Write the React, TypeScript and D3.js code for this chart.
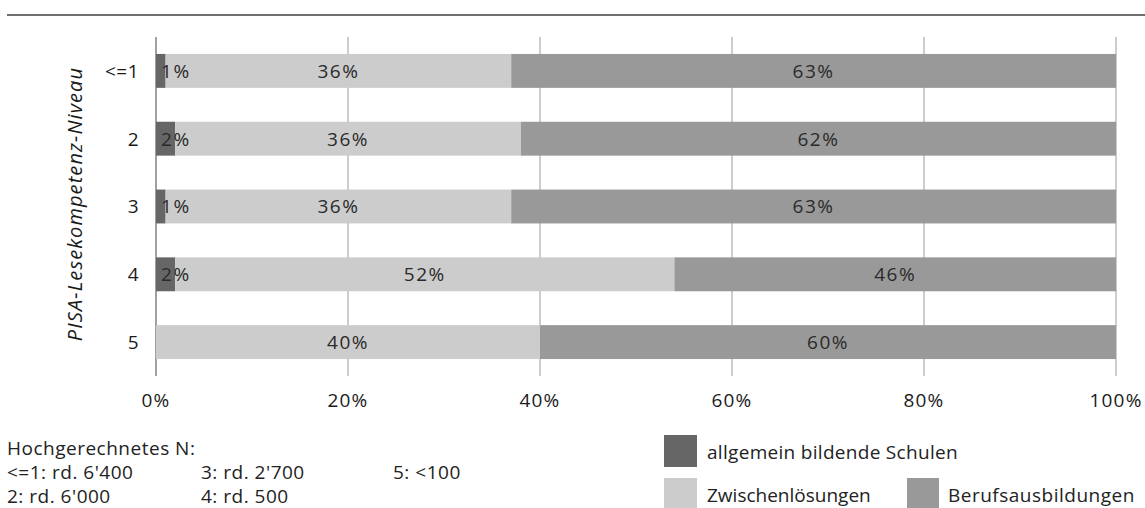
import React from "react";
import * as d3 from "d3";

const categories = ["<=1", "2", "3", "4", "5"];
const seriesNames = ["allgemein bildende Schulen", "Zwischenlösungen", "Berufsausbildungen"];
const allgemein = [1, 2, 1, 2, 0];
const zwischen = [36, 36, 36, 52, 40];
const beruf = [63, 62, 63, 46, 60];
const xTicks = [0, 20, 40, 60, 80, 100];
const colors = ["#666666", "#cccccc", "#999999"];
const noteTitle = "Hochgerechnetes N:";
const noteItems = ["<=1: rd. 6'400", "2: rd. 6'000", "3: rd. 2'700", "4: rd. 500", "5: <100"];
const yTitle = "PISA-Lesekompetenz-Niveau";

const W = 1145;
const H = 508;
const FONT = "'Open Sans', sans-serif";
const FS = 19;

export default function App() {
  const x = d3.scaleLinear().domain([0, 100]).range([156, 1116]);
  const y = d3.scaleBand<string>().domain(categories).range([37, 376]).paddingInner(0.5).paddingOuter(0.25);
  const rows = categories.map((c, i) => ({ cat: c, vals: [allgemein[i], zwischen[i], beruf[i]] }));
  const bw = y.bandwidth();

  return (
    <svg width={W} height={H} style={{ position: "absolute", left: 0, top: 0, fontFamily: FONT }}>
      <rect width={W} height={H} fill="#fff" />
      <line x1={7} x2={W} y1={15} y2={15} stroke="#6e6e6e" strokeWidth={2} />
      {/* grid */}
      {xTicks.map((t) => (
        <line key={t} x1={x(t)} x2={x(t)} y1={37} y2={376} stroke={t === 0 ? "#808080" : "#9a9a9a"} strokeWidth={t === 0 ? 1.5 : 1} />
      ))}
      {/* bars */}
      {rows.map((r) => {
        let acc = 0;
        const y0 = y(r.cat)!;
        return (
          <g key={r.cat}>
            {r.vals.map((v, k) => {
              const x0 = x(acc);
              acc += v;
              const x1 = x(acc);
              if (v <= 0) return null;
              return <rect key={k} x={x0} y={y0} width={x1 - x0} height={bw} fill={colors[k]} />;
            })}
          </g>
        );
      })}
      {/* labels */}
      {rows.map((r) => {
        let acc = 0;
        const yc = y(r.cat)! + bw / 2;
        return (
          <g key={"l" + r.cat}>
            {r.vals.map((v, k) => {
              const a = acc;
              acc += v;
              if (v <= 0) return null;
              const isSmall = k === 0;
              const tx = isSmall ? x(a) + 5 : (x(a) + x(acc)) / 2;
              return (
                <text key={k} x={tx} y={yc} dy="0.36em" textAnchor={isSmall ? "start" : "middle"} fontSize={FS} letterSpacing={1.5} fill="#2a2a2a">
                  {v}%
                </text>
              );
            })}
            <text x={139} y={yc} dy="0.36em" textAnchor="end" fontSize={FS} letterSpacing={0.5} fill="#1a1a1a">
              {r.cat}
            </text>
          </g>
        );
      })}
      {/* x ticks */}
      {xTicks.map((t) => (
        <text key={"t" + t} x={x(t)} y={400} dy="0.36em" textAnchor="middle" fontSize={FS} letterSpacing={1.2} fill="#1a1a1a">
          {t}%
        </text>
      ))}
      {/* y title */}
      <text transform={`translate(82,204) rotate(-90)`} textAnchor="middle" fontSize={20} letterSpacing={1.1} fontStyle="italic" fill="#1a1a1a">
        {yTitle}
      </text>
      {/* note */}
      <g fontSize={FS} letterSpacing={0.5} fill="#222">
        <text x={7} y={455}>{noteTitle}</text>
        <text x={7} y={479}>{noteItems[0]}</text>
        <text x={7} y={503}>{noteItems[1]}</text>
        <text x={201} y={479}>{noteItems[2]}</text>
        <text x={201} y={503}>{noteItems[3]}</text>
        <text x={393} y={479}>{noteItems[4]}</text>
      </g>
      {/* legend */}
      <g fontSize={FS} fill="#222">
        <rect x={664} y={435} width={33} height={32} fill={colors[0]} />
        <text x={707} y={452} dy="0.36em" letterSpacing={0.3}>{seriesNames[0]}</text>
        <rect x={664} y={478} width={33} height={32} fill={colors[1]} />
        <text x={707} y={495} dy="0.36em" letterSpacing={0}>{seriesNames[1]}</text>
        <rect x={907} y={478} width={32} height={32} fill={colors[2]} />
        <text x={948} y={495} dy="0.36em" letterSpacing={0.5}>{seriesNames[2]}</text>
      </g>
    </svg>
  );
}
